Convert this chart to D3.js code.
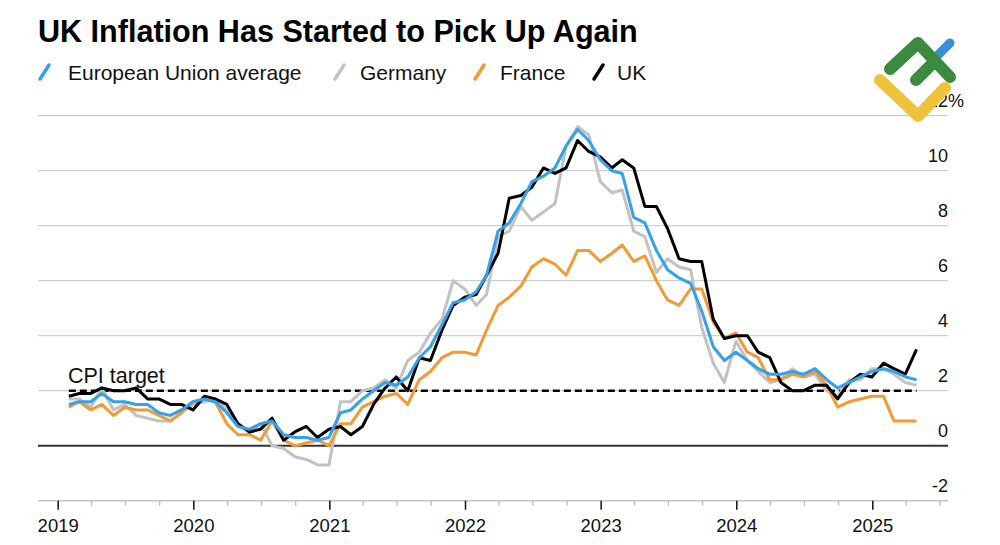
<!DOCTYPE html>
<html>
<head>
<meta charset="utf-8">
<script src="https://cdn.jsdelivr.net/npm/d3@7"></script>
<style>
  body { margin: 0; background: #fff; }
  text { font-family: "Liberation Sans", Arial, sans-serif; }
</style>
</head>
<body>
<script>
// monthly annual inflation rates, Jan 2019 .. Apr 2025
const firstMonth = "2019-01"

const euAverage = [
  1.5, 1.6, 1.6, 1.9, 1.6, 1.6, 1.5, 1.5, 1.2, 1.1, 1.3, 1.6,
  1.7, 1.6, 1.2, 0.7, 0.6, 0.8, 0.9, 0.4, 0.3, 0.3, 0.2, 0.3,
  1.2, 1.3, 1.7, 2.0, 2.3, 2.2, 2.5, 3.2, 3.6, 4.4, 5.2, 5.3,
  5.6, 6.2, 7.8, 8.1, 8.8, 9.6, 9.8, 10.1, 10.9, 11.5, 11.1, 10.4,
  10.0, 9.9, 8.3, 8.1, 7.1, 6.4, 6.1, 5.9, 4.9, 3.6, 3.1, 3.4,
  3.1, 2.8, 2.6, 2.6, 2.7, 2.6, 2.8, 2.4, 2.1, 2.3, 2.5, 2.7,
  2.8, 2.7, 2.5, 2.4
]
const germany = [
  1.7, 1.7, 1.4, 2.1, 1.3, 1.5, 1.1, 1.0, 0.9, 0.9, 1.2, 1.5,
  1.6, 1.7, 1.3, 0.8, 0.5, 0.8, 0.0, -0.1, -0.4, -0.5, -0.7, -0.7,
  1.6, 1.6, 2.0, 2.1, 2.4, 2.1, 3.1, 3.4, 4.1, 4.6, 6.0, 5.7,
  5.1, 5.5, 7.6, 7.8, 8.7, 8.2, 8.5, 8.8, 10.9, 11.6, 11.3, 9.6,
  9.2, 9.3, 7.8, 7.6, 6.3, 6.8, 6.5, 6.4, 4.3, 3.0, 2.3, 3.8,
  3.1, 2.7, 2.3, 2.4, 2.8, 2.5, 2.6, 2.0, 1.8, 2.4, 2.4, 2.8,
  2.8, 2.6, 2.3, 2.2
]
const france = [
  1.4, 1.6, 1.3, 1.5, 1.1, 1.4, 1.3, 1.3, 1.1, 0.9, 1.2, 1.6,
  1.7, 1.6, 0.8, 0.4, 0.4, 0.2, 0.9, 0.2, 0.0, 0.1, 0.2, 0.0,
  0.8, 0.8, 1.4, 1.6, 1.8, 1.9, 1.5, 2.4, 2.7, 3.2, 3.4, 3.4,
  3.3, 4.2, 5.1, 5.4, 5.8, 6.5, 6.8, 6.6, 6.2, 7.1, 7.1, 6.7,
  7.0, 7.3, 6.7, 6.9, 6.0, 5.3, 5.1, 5.7, 5.7, 4.5, 3.9, 4.1,
  3.4, 3.2, 2.4, 2.4, 2.6, 2.5, 2.7, 2.2, 1.4, 1.6, 1.7, 1.8,
  1.8, 0.9, 0.9, 0.9
]
const uk = [
  1.8, 1.9, 1.9, 2.1, 2.0, 2.0, 2.1, 1.7, 1.7, 1.5, 1.5, 1.3,
  1.8, 1.7, 1.5, 0.8, 0.5, 0.6, 1.0, 0.2, 0.5, 0.7, 0.3, 0.6,
  0.7, 0.4, 0.7, 1.5, 2.1, 2.5, 2.0, 3.2, 3.1, 4.2, 5.1, 5.4,
  5.5, 6.2, 7.0, 9.0, 9.1, 9.4, 10.1, 9.9, 10.1, 11.1, 10.7, 10.5,
  10.1, 10.4, 10.1, 8.7, 8.7, 7.9, 6.8, 6.7, 6.7, 4.6, 3.9, 4.0,
  4.0, 3.4, 3.2, 2.3, 2.0, 2.0, 2.2, 2.2, 1.7, 2.3, 2.6, 2.5,
  3.0, 2.8, 2.6, 3.5
]

const seriesNames = ["European Union average", "Germany", "France", "UK"]
const seriesColors = ["#34a1ea", "#c2c2c2", "#f39a36", "#000000"]
const yTicks = [-2, 0, 2, 4, 6, 8, 10, 12]
const yearTicks = ["2019", "2020", "2021", "2022", "2023", "2024", "2025"]
const cpiTarget = 2
const titleText = "UK Inflation Has Started to Pick Up Again"

const W = 1000, H = 545
const plotLeft = 38, plotRight = 948

var svg = d3.select("body").append("svg")
    .attr("width", W).attr("height", H)

// month-end dates for each observation
var start = d3.utcParse("%Y-%m")(firstMonth)
var dates = uk.map((v, i) => d3.utcDay.offset(d3.utcMonth.offset(start, i + 1), -1))

var years = yearTicks.map(d => d3.utcParse("%Y")(d))
var x = d3.scaleUtc()
    .domain([years[0], years[years.length - 1]])
    .range([57.7, 872.3])
var y = d3.scaleLinear().domain([0, 12]).range([445.7, 115.7])

// horizontal grid
svg.append("g").selectAll("line")
    .data(yTicks.filter(d => d > 0))
    .enter().append("line")
    .attr("x1", plotLeft).attr("x2", plotRight)
    .attr("y1", d => y(d)).attr("y2", d => y(d))
    .style("stroke", "#cfcfcf").style("stroke-width", 1.2)

// x axis (bottom line sits at -2)
var axisY = y(-2)
svg.append("line")
    .attr("x1", plotLeft).attr("x2", plotRight)
    .attr("y1", axisY).attr("y2", axisY)
    .style("stroke", "#c4c4c4").style("stroke-width", 1.6)

var minor = d3.utcMonth.every(3).range(x.invert(plotLeft), x.invert(plotRight))
    .filter(d => d.getUTCMonth() != 0)

var minorAxis = svg.append("g")
    .attr("transform", `translate(0,${axisY})`)
    .call(d3.axisBottom(x).tickValues(minor).tickSize(5).tickFormat(""))
minorAxis.select(".domain").remove()
minorAxis.selectAll("line").style("stroke", "#bdbdbd").style("stroke-width", 1.3)

var majorAxis = svg.append("g")
    .attr("transform", `translate(0,${axisY})`)
    .call(d3.axisBottom(x).tickValues(years).tickSize(9).tickPadding(9)
        .tickFormat(d3.utcFormat("%Y")))
majorAxis.select(".domain").remove()
majorAxis.selectAll("line").style("stroke", "#111").style("stroke-width", 1.5)
majorAxis.selectAll("text")
    .attr("font-size", 18.5).attr("fill", "#111")
    .style("font-family", '"Liberation Sans", Arial, sans-serif')

// y labels, right-aligned above the gridlines
var yAxis = svg.append("g")
    .attr("transform", `translate(${plotRight},0)`)
    .call(d3.axisLeft(y).tickValues(yTicks).tickSize(0).tickPadding(0)
        .tickFormat(d => String(d)))
yAxis.select(".domain").remove()
yAxis.selectAll("text")
    .attr("dy", 0).attr("y", -9)
    .attr("font-size", 18).attr("fill", "#111")
    .style("font-family", '"Liberation Sans", Arial, sans-serif')
svg.append("text")
    .attr("x", plotRight).attr("y", y(12) - 9)
    .attr("font-size", 18).attr("fill", "#111")
    .text("%")

// zero line
svg.append("line")
    .attr("x1", plotLeft).attr("x2", plotRight)
    .attr("y1", y(0)).attr("y2", y(0))
    .style("stroke", "#333").style("stroke-width", 2)

// CPI target
svg.append("line")
    .attr("x1", x(dates[0])).attr("x2", x(dates[dates.length - 1]))
    .attr("y1", y(cpiTarget)).attr("y2", y(cpiTarget))
    .style("stroke", "#000").style("stroke-width", 2.5)
    .style("stroke-dasharray", "7,4")
svg.append("text")
    .attr("x", 68).attr("y", 383)
    .attr("font-size", 21.5).attr("fill", "#111")
    .text("CPI target")

// series lines: Germany, France, UK underneath, EU on top
var line = d3.line().x((d, i) => x(dates[i])).y(d => y(d))
var allSeries = [euAverage, germany, france, uk]
var drawOrder = [1, 2, 3, 0]
svg.append("g").selectAll("path")
    .data(drawOrder)
    .enter().append("path")
    .attr("d", k => line(allSeries[k]))
    .style("fill", "none")
    .style("stroke", k => seriesColors[k])
    .style("stroke-width", 3)
    .style("stroke-linejoin", "round")

// title
var title = svg.append("text")
    .attr("x", 38).attr("y", 42)
    .attr("font-size", 30).attr("font-weight", "bold").attr("fill", "#000")
    .text(titleText)
title.attr("font-size", 30 * 600 / title.node().getComputedTextLength())

// legend (slash + label, positions as in the original)
var legendSlashX = [38, 333, 473, 592]
var legendTextX = [68, 360, 500, 617]
seriesNames.forEach((name, k) => {
    svg.append("line")
        .attr("x1", legendSlashX[k] + 2).attr("y1", 79)
        .attr("x2", legendSlashX[k] + 11).attr("y2", 65)
        .style("stroke", seriesColors[k]).style("stroke-width", 3.5)
        .style("stroke-linecap", "round")
    svg.append("text")
        .attr("x", legendTextX[k]).attr("y", 80)
        .attr("font-size", 21).attr("fill", "#111")
        .text(name)
})

// logo in the corner
var logo = svg.append("g")
    .style("fill", "none").style("stroke-linecap", "round").style("stroke-linejoin", "round")
logo.append("path").attr("d", "M950,43 L937,56")
    .style("stroke", "#3b8fd9").style("stroke-width", 9)
logo.append("path").attr("d", "M890,69 L918,43 L950,77")
    .style("stroke", "#3a8b3e").style("stroke-width", 12)
logo.append("path").attr("d", "M916,80 L932,64")
    .style("stroke", "#3a8b3e").style("stroke-width", 12)
logo.append("path").attr("d", "M880,80 L918,116 L945,88")
    .style("stroke", "#efc23a").style("stroke-width", 12)
</script>
</body>
</html>
